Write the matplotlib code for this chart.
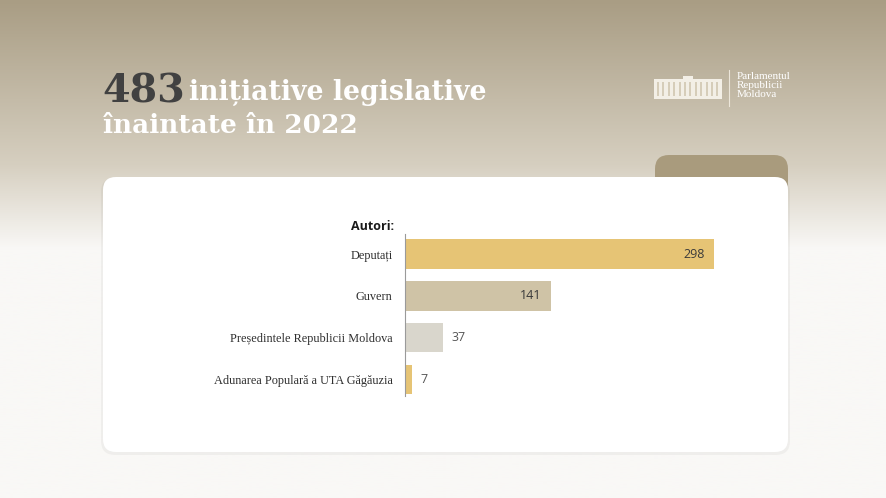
import numpy as np
import matplotlib.pyplot as plt
from matplotlib.patches import FancyBboxPatch, Rectangle

# Chart data
authors = ["Deputați", "Guvern", "Președintele Republicii Moldova", "Adunarea Populară a UTA Găgăuzia"]
counts = [298, 141, 37, 7]
bar_colors = ["#e6c475", "#cfc3a6", "#d9d6cc", "#e6c475"]
total = 483
title_rest = "inițiative legislative"
title_line2 = "înaintate în 2022"
logo_text = "Parlamentul\nRepublicii\nMoldova"

W, H = 887, 498
fig = plt.figure(figsize=(W / 100, H / 100), dpi=100)

# Background layer in pixel coordinates
bg = fig.add_axes([0, 0, 1, 1])
bg.set_xlim(0, W)
bg.set_ylim(H, 0)
bg.axis("off")

# Vertical gradient: tan at the top fading to off-white
ys = np.linspace(0, 1, 256)
top = np.array([169, 157, 132]) / 255
mid = np.array([214, 207, 192]) / 255
low = np.array([249, 248, 246]) / 255
grad = np.zeros((256, 1, 3))
for i, t in enumerate(ys):
    if t < 0.33:
        f = t / 0.33
        grad[i, 0] = top * (1 - f) + mid * f
    elif t < 0.5:
        f = (t - 0.33) / 0.17
        grad[i, 0] = mid * (1 - f) + low * f
    else:
        grad[i, 0] = low
bg.imshow(grad, extent=[0, W, H, 0], aspect="auto", zorder=0)

# Tab behind the card
bg.add_patch(FancyBboxPatch((655, 155), 133, 40, boxstyle="round,pad=0,rounding_size=14",
                            facecolor="#a99b7d", edgecolor="none", zorder=1))
# Card shadow and card
bg.add_patch(FancyBboxPatch((101, 178), 689, 277, boxstyle="round,pad=0,rounding_size=14",
                            facecolor="#000000", alpha=0.04, edgecolor="none", zorder=2))
bg.add_patch(FancyBboxPatch((103, 177), 685, 275, boxstyle="round,pad=0,rounding_size=13",
                            facecolor="white", edgecolor="none", zorder=3))

# Title
title_serif = ["DejaVu Serif"]
serif = ["Liberation Serif", "DejaVu Serif"]
bg.text(102, 102, str(total), fontsize=28.5, fontweight="bold", color="#414141",
        family=title_serif, ha="left", va="baseline", zorder=5)
bg.text(189, 100, title_rest, fontsize=19.3, fontweight="bold", color="white",
        family=title_serif, ha="left", va="baseline", zorder=5)
bg.text(103, 133, title_line2, fontsize=19, fontweight="bold", color="white",
        family=title_serif, ha="left", va="baseline", zorder=5)

# Logo: simplified building silhouette + text
bg.add_patch(Rectangle((654, 79), 68, 20, facecolor="#f3efe6", edgecolor="none", zorder=5))
bg.add_patch(Rectangle((683, 76), 10, 3, facecolor="#f3efe6", edgecolor="none", zorder=5))
for k in range(12):
    bg.add_patch(Rectangle((657 + k * 5.4, 82), 2.0, 14, facecolor="#d6cdb9",
                           edgecolor="none", zorder=6))
bg.plot([729, 729], [70, 106], color="#ece6da", lw=0.8, zorder=5)
bg.text(737, 72, logo_text, fontsize=8, color="white", family=serif,
        ha="left", va="top", linespacing=0.98, zorder=5)

# Bar chart axes
ax_left, ax_right = 405, 760
ax_top, ax_bot = 234, 396
ax = fig.add_axes([ax_left / W, 1 - ax_bot / H, (ax_right - ax_left) / W, (ax_bot - ax_top) / H])
ax.patch.set_alpha(0)
y = np.arange(len(authors))
ax.barh(y, counts, height=0.7, color=bar_colors, zorder=3)
ax.set_xlim(0, (ax_right - ax_left) / 1.037)
ax.set_ylim(3.39, -0.48)
ax.set_yticks(y)
ax.set_yticklabels(authors, family=serif, fontsize=8.8, color="#2f2f2f")
ax.tick_params(axis="y", length=0, pad=9)
ax.set_xticks([])
for s in ["top", "right", "bottom"]:
    ax.spines[s].set_visible(False)
ax.spines["left"].set_color("#9a9a9a")
ax.spines["left"].set_linewidth(0.8)
ax.spines["left"].set_zorder(4)

sans = ["Open Sans", "DejaVu Sans"]
for yi, v in zip(y, counts):
    if v > 100:
        ax.text(v - 9, yi, str(v), ha="right", va="center", fontsize=9, color="#3a3a3a",
                family=sans, zorder=4)
    else:
        ax.text(v + 8, yi, str(v), ha="left", va="center", fontsize=9, color="#555555",
                family=sans, zorder=4)

bg.text(394, 226, "Autori:", fontsize=9, fontweight="bold", color="#1a1a1a",
        family=sans, ha="right", va="center", zorder=5)

fig.savefig("out.png", dpi=100)
